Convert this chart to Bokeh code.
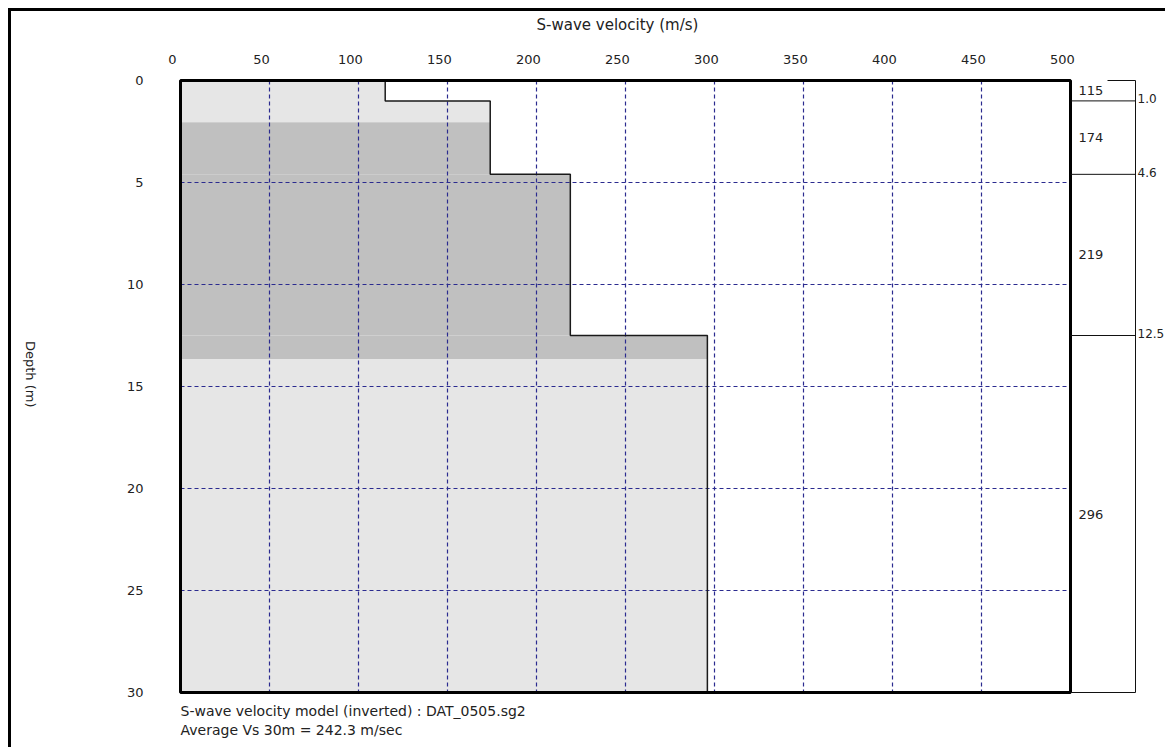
import numpy as np
from bokeh.plotting import figure
from bokeh.models import Range1d, LinearAxis, FixedTicker
from bokeh.core.properties import value
from bokeh.embed import file_html
from bokeh.resources import INLINE

# ---------------- data ----------------
layer_top = [0.0, 1.0, 4.6, 12.5]
layer_bottom = [1.0, 4.6, 12.5, 30.0]
vs = [115, 174, 219, 296]
vs_labels = ["115", "174", "219", "296"]
interface_depths = [1.0, 4.6, 12.5]
interface_labels = ["1.0", "4.6", "12.5"]
band_top = [0.0, 2.05, 13.65]
band_bottom = [2.05, 13.65, 30.0]
band_colors = ["#e6e6e6", "#c0c0c0", "#e6e6e6"]
x_ticks = [0, 50, 100, 150, 200, 250, 300, 350, 400, 450, 500]
y_ticks = [0, 5, 10, 15, 20, 25, 30]
grid_x = [50, 100, 150, 200, 250, 300, 350, 400, 450]
grid_y = [5, 10, 15, 20, 25]
x_title = "S-wave velocity (m/s)"
y_title = "Depth (m)"
notes = ["S-wave velocity model (inverted) : DAT_0505.sg2",
         "Average Vs 30m = 242.3 m/sec"]
V_MAX = 500
D_MAX = 30

# ---------------- layout (page pixels) ----------------
MARGIN, BORDER = 8, 3           # css margin + border of the figure (left/top)
ORIGIN = MARGIN + BORDER        # page position of the canvas origin
W, H = 1157, 739                # canvas size
BOX_L, BOX_T = 180, 80          # plot box on the page
BOX_W, BOX_H = 890, 612
SX = BOX_W / V_MAX              # px per m/s
SY = BOX_H / D_MAX              # px per m
FRAME_L = BOX_L - 10
FRAME_T = BOX_T - 4


def dx(px):   # page x px -> data x
    return (px - BOX_L) / SX


def dy(py):   # page y px -> data y
    return (py - BOX_T) / SY


x_start, x_end = dx(FRAME_L), dx(ORIGIN + W)
y_top, y_bot = dy(FRAME_T), dy(ORIGIN + H)
LAB_SHIFT = 8 / SX
COL_R = dx(1135)
COL_TOP_L = dx(1107)
Y_TITLE_AT = dy(407)

FONT = "DejaVu Sans"
TXT = "#222222"
GRID = "#2b2b8f"

p = figure(width=W, height=H,
           x_range=Range1d(x_start, x_end), y_range=Range1d(y_bot, y_top),
           x_axis_location=None, y_axis_location=None,
           toolbar_location=None, output_backend="svg",
           min_border_left=FRAME_L - ORIGIN, min_border_right=0,
           min_border_top=FRAME_T - ORIGIN, min_border_bottom=0,
           background_fill_color="white", border_fill_color="white")
p.styles = {"margin-left": f"{MARGIN}px", "margin-top": f"{MARGIN}px",
            "border-left": f"{BORDER}px solid black",
            "border-top": f"{BORDER}px solid black"}
p.outline_line_color = None
p.grid.grid_line_color = None

p.extra_x_ranges = {"lab": Range1d(x_start + LAB_SHIFT, x_end + LAB_SHIFT)}
ax = LinearAxis(x_range_name="lab", ticker=FixedTicker(ticks=x_ticks))
ax_title = LinearAxis(x_range_name="lab", ticker=FixedTicker(ticks=[V_MAX // 2]),
                      major_label_overrides={V_MAX // 2: x_title})
ay = LinearAxis(ticker=FixedTicker(ticks=y_ticks))
ay_title = LinearAxis(ticker=FixedTicker(ticks=[Y_TITLE_AT]),
                      major_label_overrides={Y_TITLE_AT: y_title},
                      major_label_orientation=-np.pi / 2)
for a, st, fs in ((ax, 13, "13px"), (ax_title, 18, "15px"),
                  (ay, 27, "13px"), (ay_title, 93, "13px")):
    a.axis_line_color = None
    a.major_tick_line_color = None
    a.minor_tick_line_color = None
    a.major_tick_out = 0
    a.major_tick_in = 0
    a.major_label_standoff = st
    a.major_label_text_font = FONT
    a.major_label_text_font_size = fs
    a.major_label_text_color = TXT
p.add_layout(ax, "above")
p.add_layout(ax_title, "above")
p.add_layout(ay, "left")
p.add_layout(ay_title, "left")

# filled area under the profile, shaded by depth band
ql, qr, qt, qb, qc = [], [], [], [], []
for lt, lb, v in zip(layer_top, layer_bottom, vs):
    for bt, bb, c in zip(band_top, band_bottom, band_colors):
        t, b = max(lt, bt), min(lb, bb)
        if t < b:
            ql.append(0); qr.append(v); qt.append(t); qb.append(b); qc.append(c)
p.quad(left=ql, right=qr, top=qt, bottom=qb, fill_color=qc, line_color=None)

# dashed grid
p.segment(x0=grid_x, x1=grid_x, y0=[0] * len(grid_x), y1=[D_MAX] * len(grid_x),
          line_color=GRID, line_width=1.2, line_dash="4 3")
p.segment(x0=[0] * len(grid_y), x1=[V_MAX] * len(grid_y), y0=grid_y, y1=grid_y,
          line_color=GRID, line_width=1.2, line_dash="4 3")

# velocity profile step line
px_, py_ = [], []
for lt, lb, v in zip(layer_top, layer_bottom, vs):
    px_ += [v, v]
    py_ += [lt, lb]
p.line(px_, py_, line_color="#1a1a1a", line_width=1.5)

# main box
p.quad(left=[0], right=[V_MAX], top=[0], bottom=[D_MAX], fill_color=None,
       line_color="black", line_width=3)

# right column with layer table
p.segment(x0=[V_MAX] * len(interface_depths), x1=[COL_R] * len(interface_depths),
          y0=interface_depths, y1=interface_depths, line_color="#111111", line_width=1)
p.segment(x0=[COL_R, COL_TOP_L, V_MAX], x1=[COL_R, COL_R, COL_R],
          y0=[0, 0, D_MAX], y1=[D_MAX, 0, D_MAX], line_color="#111111", line_width=1)
mid = [(a + b) / 2 for a, b in zip(layer_top, layer_bottom)]
p.text(x=[V_MAX] * len(vs), y=mid, text=vs_labels, x_offset=8,
       text_font=value(FONT), text_font_size="13px", text_color=TXT,
       text_align="left", text_baseline="middle")
p.text(x=[COL_R] * len(interface_depths), y=interface_depths, text=interface_labels,
       x_offset=2, y_offset=-2,
       text_font=value(FONT), text_font_size="12px", text_color=TXT,
       text_align="left", text_baseline="middle")

# notes under the plot
p.text(x=[0, 0], y=[dy(710), dy(729)], text=notes,
       text_font=value(FONT), text_font_size="14px", text_color=TXT,
       text_align="left", text_baseline="middle")

open("out.html", "w").write(file_html(p, INLINE))
